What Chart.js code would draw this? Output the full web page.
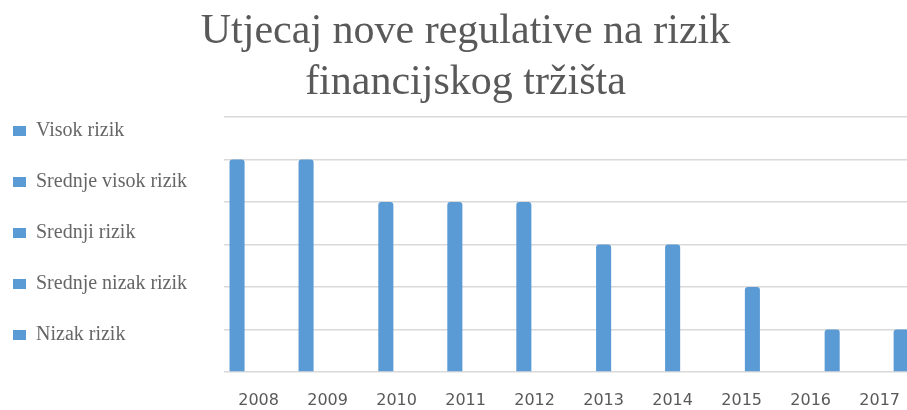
<!DOCTYPE html>
<html>
<head>
<meta charset="utf-8">
<script src="https://cdn.jsdelivr.net/npm/chart.js@4/dist/chart.umd.min.js"></script>
<style>
  html, body { margin: 0; padding: 0; background: #ffffff; overflow: hidden; }
  #wrap { position: relative; width: 919px; height: 410px; }
</style>
</head>
<body>
<div id="wrap"><canvas id="c"></canvas></div>
<script>
// ---- data ----
const titleLines = ['Utjecaj nove regulative na rizik', 'financijskog tržišta'];
const years = ['2008', '2009', '2010', '2011', '2012', '2013', '2014', '2015', '2016', '2017'];
const riskLabels = ['Visok rizik', 'Srednje visok rizik', 'Srednji rizik', 'Srednje nizak rizik', 'Nizak rizik'];
const riskLevelValues = [5, 4, 3, 2, 1];
const riskByYear = [5, 5, 4, 4, 4, 3, 3, 2, 1, 1];

const barColor = '#5B9BD5';

const datasets = riskLabels.map((lbl, k) => ({
  label: lbl,
  data: riskByYear.map(v => (v === riskLevelValues[k] ? v : null)),
  backgroundColor: barColor,
  borderWidth: 0,
  borderRadius: { topLeft: 3, topRight: 3, bottomLeft: 0, bottomRight: 0 },
  borderSkipped: 'start',
  categoryPercentage: 0.78,
  barPercentage: 1.4
}));

new Chart(document.getElementById('c'), {
  type: 'bar',
  data: { labels: years, datasets },
  options: {
    responsive: true,
    maintainAspectRatio: false,
    animation: false,
    devicePixelRatio: 1,
    layout: { padding: { left: 12, right: 0, top: 0, bottom: 0 } },
    plugins: {
      title: {
        display: true,
        text: titleLines,
        color: '#595959',
        font: { family: 'Liberation Serif', size: 42, weight: 'normal', lineHeight: 1.214 },
        padding: { top: 6, bottom: 9 }
      },
      legend: {
        display: true,
        position: 'left',
        align: 'start',
        fullSize: true,
        title: { display: true, text: '', font: { size: 12, lineHeight: 1 }, padding: { top: 108, bottom: 0 } },
        labels: {
          color: '#404040',
          font: { family: 'Liberation Serif', size: 20, lineHeight: 2.5 },
          boxWidth: 13,
          boxHeight: 10,
          padding: 1,
          generateLabels: () => riskLabels.map((t, i) => ({
            text: [t],
            fillStyle: barColor,
            strokeStyle: barColor,
            lineWidth: 0,
            hidden: false,
            datasetIndex: i
          }))
        },
        onClick: () => {}
      },
      tooltip: { enabled: false }
    },
    scales: {
      x: {
        grid: { display: false, drawTicks: false },
        border: { display: false },
        ticks: {
          color: '#595959',
          font: { family: 'DejaVu Sans', size: 16 },
          padding: 19,
          maxRotation: 0,
          autoSkip: false
        },
        afterFit: (s) => { s.height = 38; }
      },
      y: {
        min: 0,
        max: 6,
        ticks: { display: false, stepSize: 1 },
        grid: { color: '#d9d9d9', lineWidth: 1.5, drawTicks: false },
        border: { display: false },
        afterFit: (s) => { s.width = 27; }
      }
    }
  }
});
</script>
</body>
</html>
